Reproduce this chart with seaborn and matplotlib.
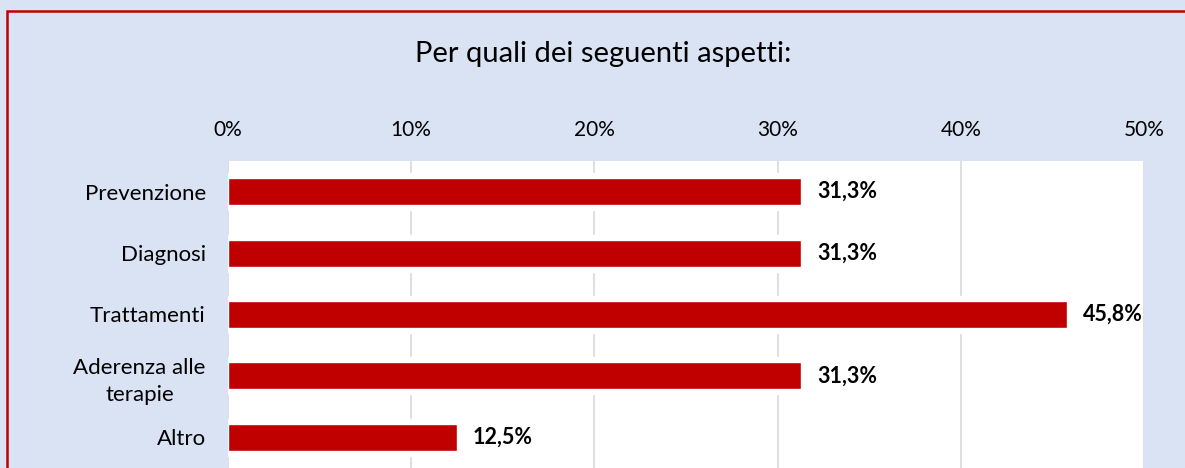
import matplotlib
matplotlib.use("Agg")
import matplotlib.pyplot as plt
import seaborn as sns
import pandas as pd
from matplotlib.patches import Rectangle

# Data
categories = ["Prevenzione", "Diagnosi", "Trattamenti", "Aderenza alle\nterapie", "Altro"]
values = [31.3, 31.3, 45.8, 31.3, 12.5]
value_labels = ["31,3%", "31,3%", "45,8%", "31,3%", "12,5%"]
tick_values = [0, 10, 20, 30, 40, 50]
tick_labels = ["0%", "10%", "20%", "30%", "40%", "50%"]
title = "Per quali dei seguenti aspetti:"

BG = "#DAE3F3"
RED = "#C00000"
GRID = "#D9D9D9"

sns.set_theme(style="white")
plt.rcParams["font.family"] = ["Lato", "DejaVu Sans"]

df = pd.DataFrame({"categoria": categories, "valore": values})

W, H = 1185, 468
fig = plt.figure(figsize=(W / 100, H / 100), dpi=100)
fig.patch.set_facecolor(BG)

# Outer frame of the chart
fig.add_artist(Rectangle((7 / W, -0.1), 1.2, 1 - 11 / H + 0.1,
                         transform=fig.transFigure, fill=False,
                         edgecolor=RED, linewidth=1.8))

ax = fig.add_axes([228 / W, 0.0, (1144 - 228) / W, 1 - 161 / H])
ax.set_facecolor("white")

# White backing behind each bar, then the bars themselves
sns.barplot(data=df, x="valore", y="categoria", orient="h", color="white",
            width=0.6, ax=ax, zorder=2, saturation=1)
sns.barplot(data=df, x="valore", y="categoria", orient="h", color=RED,
            width=0.44, ax=ax, zorder=3, saturation=1)

ax.set_xlim(0, 50)
ax.set_ylim(4.5, -0.5)
ax.set_xticks(tick_values)
ax.set_xticklabels(tick_labels)
ax.xaxis.tick_top()
ax.tick_params(axis="x", length=0, pad=15, labelsize=15, colors="#000000")
ax.tick_params(axis="y", length=0, pad=16, labelsize=16, colors="#000000")
for lab in ax.get_yticklabels():
    lab.set_multialignment("center")
    lab.set_linespacing(1.45)
ax.set_xlabel("")
ax.set_ylabel("")
ax.grid(axis="x", color=GRID, linewidth=1.2, zorder=1)
ax.set_axisbelow(True)
for s in ax.spines.values():
    s.set_visible(False)

for i, (v, lab) in enumerate(zip(values, value_labels)):
    ax.annotate(lab, xy=(v, i), xytext=(11.5, 0), textcoords="offset points",
                ha="left", va="center", fontsize=15.5, fontweight="bold",
                color="#000000", zorder=4)

fig.text(603 / W, 1 - 62 / H, title, ha="center", va="baseline",
         fontsize=21, color="#000000")

fig.savefig("out.png", dpi=100, facecolor=BG)
